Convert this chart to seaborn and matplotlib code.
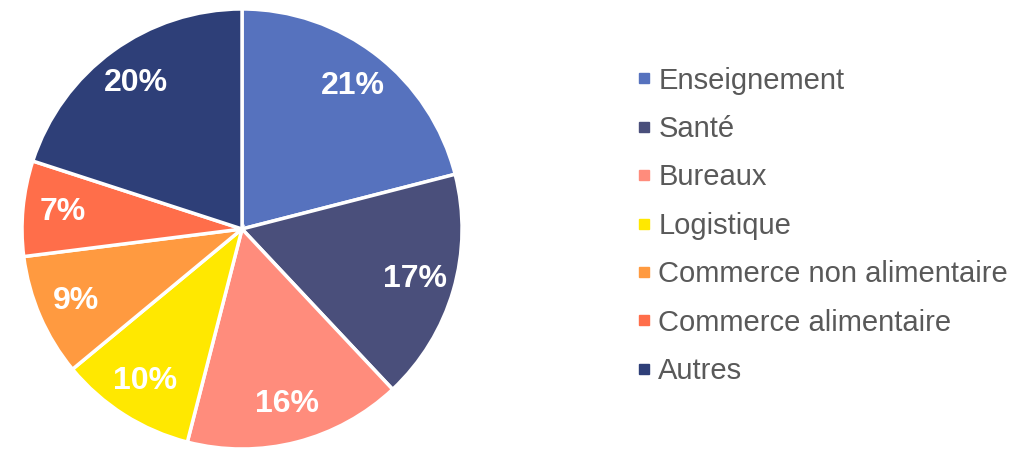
import matplotlib.pyplot as plt
import seaborn as sns
from matplotlib.lines import Line2D

# ---- data ----
categories = [
    "Enseignement",
    "Santé",
    "Bureaux",
    "Logistique",
    "Commerce non alimentaire",
    "Commerce alimentaire",
    "Autres",
]
shares = [21, 17, 16, 10, 9, 7, 20]
colors = ["#5672BE", "#4A4F7B", "#FF8C7C", "#FFE800", "#FF9A40", "#FF6E4A", "#2E3F78"]

sns.set_theme(style="white")
plt.rcParams["font.family"] = ["Liberation Sans", "DejaVu Sans"]

fig = plt.figure(figsize=(10.33, 4.49), dpi=100)
ax = fig.add_axes([0.0213, 0.0, 0.426, 0.98])

wedges, texts, autotexts = ax.pie(
    shares,
    colors=colors,
    startangle=90,
    counterclock=False,
    autopct="%d%%",
    pctdistance=0.82,
    wedgeprops={"edgecolor": "white", "linewidth": 2.5},
    textprops={"color": "white", "fontsize": 23, "fontweight": "bold"},
)
ax.set_xlim(-1.0, 1.0)
ax.set_ylim(-1.0, 1.0)
ax.set_aspect("equal")

# legend with small square markers
handles = [
    Line2D([0], [0], marker="s", linestyle="", markersize=7,
           markerfacecolor=c, markeredgecolor=c)
    for c in colors
]
fig.legend(
    handles,
    categories,
    loc="center left",
    bbox_to_anchor=(0.602, 0.497),
    frameon=False,
    fontsize=21,
    labelcolor="#595959",
    borderpad=0,
    handlelength=0.5,
    handletextpad=0.25,
    labelspacing=0.70,
)

fig.savefig("out.png", dpi=100)
